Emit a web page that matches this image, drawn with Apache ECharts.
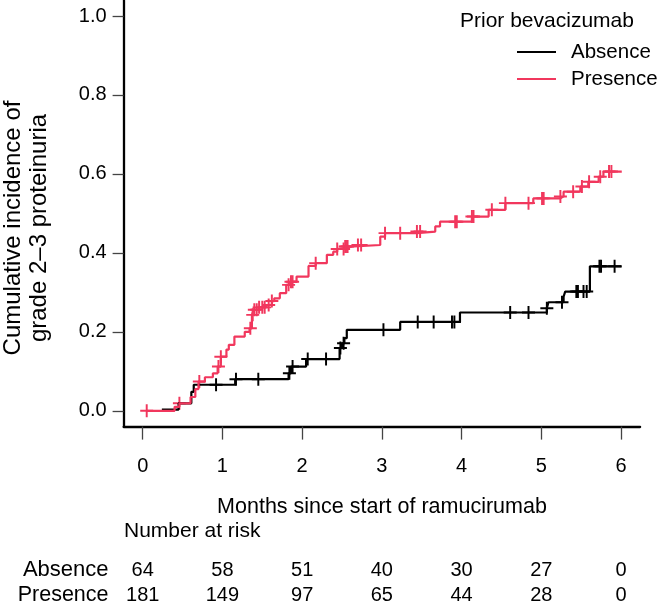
<!DOCTYPE html>
<html>
<head>
<meta charset="utf-8">
<script src="https://cdn.jsdelivr.net/npm/echarts@6/dist/echarts.min.js"></script>
<style>
  html, body { margin: 0; padding: 0; background: #fff; }
  #chart { width: 658px; height: 605px; }
</style>
</head>
<body>
<div id="chart"></div>
<script>
// step times (months) and cumulative incidence after each step
const absenceTime = [0.24, 0.45, 0.61, 0.64, 1.16, 1.83, 1.86, 2.05, 2.47, 2.50, 2.53, 2.56, 3.23, 3.98, 5.07, 5.09, 5.28, 5.30, 5.61, 6.01];
const absenceInc = [0.003, 0.019, 0.048, 0.066, 0.08, 0.095, 0.112, 0.131, 0.159, 0.171, 0.184, 0.205, 0.225, 0.249, 0.26, 0.275, 0.289, 0.302, 0.366, 0.366];
const absenceCensor = [0.92, 1.17, 1.45, 1.84, 1.88, 2.07, 2.30, 2.48, 2.52, 3.02, 3.45, 3.65, 3.88, 3.91, 4.61, 4.84, 5.07, 5.26, 5.44, 5.46, 5.53, 5.57, 5.73, 5.75, 5.92];

const presenceTime = [0.05, 0.40, 0.46, 0.60, 0.66, 0.70, 0.78, 0.88, 0.94, 0.98, 1.05, 1.08, 1.15, 1.28, 1.34, 1.37, 1.39, 1.46, 1.55, 1.62, 1.65, 1.72, 1.80, 1.85, 1.93, 2.08, 2.17, 2.31, 2.39, 2.44, 2.54, 2.60, 2.98, 3.04, 3.44, 3.67, 3.73, 4.13, 4.34, 4.55, 4.90, 5.24, 5.28, 5.49, 5.59, 5.72, 5.78, 6.01];
const presenceInc = [0.0, 0.01, 0.019, 0.035, 0.055, 0.074, 0.085, 0.095, 0.112, 0.137, 0.155, 0.167, 0.188, 0.2, 0.209, 0.243, 0.256, 0.262, 0.268, 0.278, 0.285, 0.298, 0.319, 0.327, 0.34, 0.367, 0.374, 0.395, 0.403, 0.41, 0.416, 0.42, 0.441, 0.45, 0.454, 0.467, 0.479, 0.492, 0.509, 0.526, 0.538, 0.543, 0.555, 0.568, 0.58, 0.593, 0.606, 0.606];
const presenceCensor = [0.05, 0.46, 0.71, 0.95, 0.98, 1.35, 1.38, 1.40, 1.43, 1.46, 1.50, 1.53, 1.58, 1.62, 1.83, 1.86, 1.88, 2.17, 2.44, 2.52, 2.54, 2.55, 2.57, 2.70, 2.74, 3.04, 3.23, 3.44, 3.48, 3.92, 3.94, 4.13, 4.15, 4.38, 4.55, 4.84, 5.01, 5.03, 5.24, 5.40, 5.51, 5.60, 5.74, 5.85, 5.88];

const xTicks = [0, 1, 2, 3, 4, 5, 6];
const yTicks = [0, 0.2, 0.4, 0.6, 0.8, 1.0];

const riskTimes = [0, 1, 2, 3, 4, 5, 6];
const absenceRisk = [64, 58, 51, 40, 30, 27, 0];
const presenceRisk = [181, 149, 97, 65, 44, 28, 0];

const RED = "#f1375d";
const FONT = "'Liberation Sans', Arial, sans-serif";
// "+" censor mark
const PLUS = "path://M0,5.1L12,5.1L12,6.9L0,6.9Z M5.1,0L6.9,0L6.9,12L5.1,12Z";

function pairs(t, v) {
  return t.map((x, i) => [x, v[i]]);
}
// value of the step curve at time t
function stepAt(t, times, vals) {
  let v = vals[0];
  for (let i = 0; i < times.length; i++) {
    if (times[i] <= t + 1e-9) v = vals[i];
  }
  return v;
}
function censorPts(c, times, vals) {
  return c.map(t => [t, stepAt(t, times, vals)]);
}

var myChart = echarts.init(document.getElementById("chart"));

let option = {
  animation: false,
  grid: { left: 123.6, right: 17.9, top: 0.2, bottom: 178.4 },
  xAxis: {
    type: "value",
    min: -0.24,
    max: 6.24,
    splitLine: { show: false },
    axisLine: { show: true, onZero: false, lineStyle: { color: "#000", width: 2.3 } },
    axisTick: { show: true, customValues: xTicks, length: 13, lineStyle: { color: "#444", width: 1.3 } },
    axisLabel: { customValues: xTicks, margin: 30, fontSize: 20, color: "#000", fontFamily: FONT }
  },
  yAxis: {
    type: "value",
    min: -0.04,
    max: 1.04,
    splitLine: { show: false },
    axisLine: { show: true, onZero: false, lineStyle: { color: "#000", width: 2.3 } },
    axisTick: { show: true, customValues: yTicks, length: 11, lineStyle: { color: "#444", width: 1.3 } },
    axisLabel: {
      customValues: yTicks,
      margin: 17,
      fontSize: 20,
      color: "#000",
      fontFamily: FONT,
      formatter: v => v.toFixed(1)
    }
  },
  legend: {
    orient: "vertical",
    left: 517,
    top: 40,
    padding: 0,
    icon: "rect",
    itemWidth: 39,
    itemHeight: 2,
    itemGap: 3,
    data: ["Absence", "Presence"],
    textStyle: { fontSize: 20.5, color: "#000", fontFamily: FONT, lineHeight: 24, padding: [0, 0, 0, 10] }
  },
  series: [
    {
      name: "Absence",
      type: "line",
      step: "end",
      symbol: "none",
      silent: true,
      lineStyle: { color: "#000", width: 2.2 },
      itemStyle: { color: "#000" },
      data: pairs(absenceTime, absenceInc)
    },
    {
      name: "Absence censored",
      type: "scatter",
      symbol: PLUS,
      symbolSize: 13,
      silent: true,
      itemStyle: { color: "#000", opacity: 1 },
      data: censorPts(absenceCensor, absenceTime, absenceInc)
    },
    {
      name: "Presence",
      type: "line",
      step: "end",
      symbol: "none",
      silent: true,
      lineStyle: { color: RED, width: 2.2 },
      itemStyle: { color: RED },
      data: pairs(presenceTime, presenceInc)
    },
    {
      name: "Presence censored",
      type: "scatter",
      symbol: PLUS,
      symbolSize: 13,
      silent: true,
      itemStyle: { color: RED, opacity: 1 },
      data: censorPts(presenceCensor, presenceTime, presenceInc)
    }
  ]
};

myChart.setOption(option, true);

// texts around the plot: axis titles, legend title, number at risk table
function txt(x, y, text, align, size) {
  return {
    type: "text",
    x: x,
    y: y,
    style: {
      text: text,
      align: align || "left",
      verticalAlign: "middle",
      fontSize: size || 21,
      fontFamily: FONT,
      fill: "#000"
    }
  };
}

let graphics = [
  txt(460, 21, "Prior bevacizumab"),
  txt(382, 507, "Months since start of ramucirumab", "center", 21.5),
  txt(124, 531, "Number at risk"),
  txt(108.5, 570, "Absence", "right", 22),
  txt(108.5, 595, "Presence", "right", 21.5),
  {
    type: "text",
    x: 26.5,
    y: 228,
    rotation: Math.PI / 2,
    style: {
      text: "Cumulative incidence of\ngrade 2\u20133 proteinuria",
      align: "center",
      verticalAlign: "middle",
      lineHeight: 26,
      fontSize: 24,
      fontFamily: FONT,
      fill: "#000"
    }
  }
];
riskTimes.forEach((t, i) => {
  const px = myChart.convertToPixel({ xAxisIndex: 0 }, t);
  graphics.push(txt(px, 570, String(absenceRisk[i]), "center", 20));
  graphics.push(txt(px, 595, String(presenceRisk[i]), "center", 20));
});

myChart.setOption({ graphic: graphics });
</script>
</body>
</html>
